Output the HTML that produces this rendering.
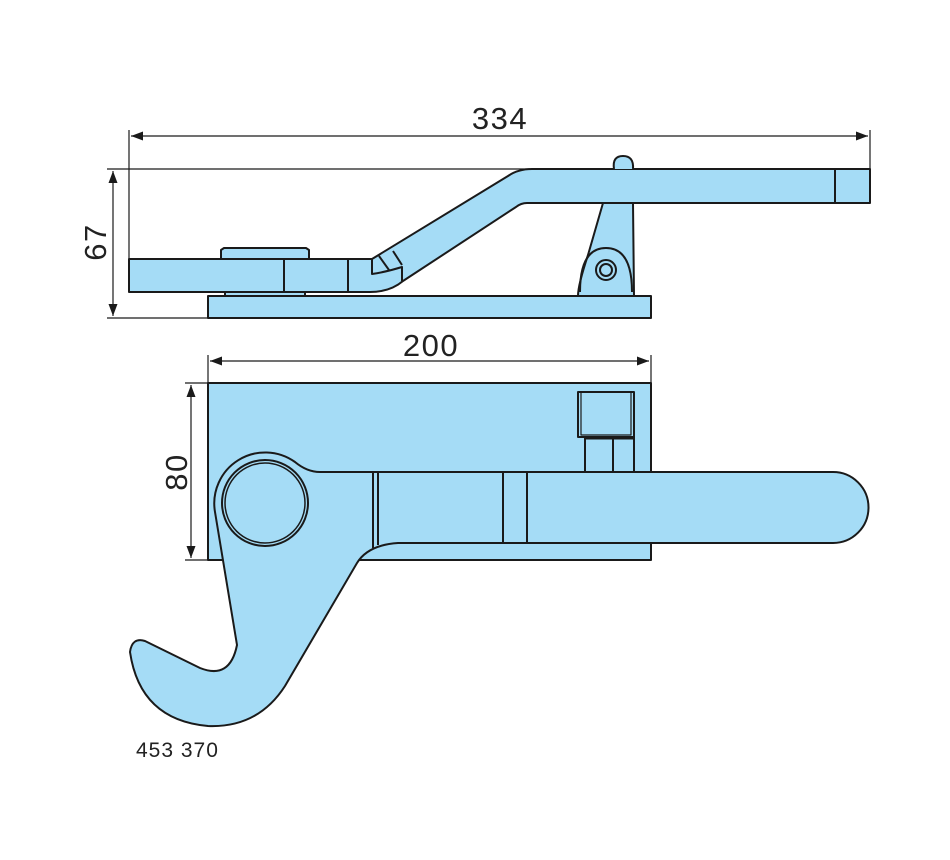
<!DOCTYPE html>
<html><head><meta charset="utf-8"><style>body{margin:0;background:#fff}svg{display:block}</style></head>
<body>
<svg width="950" height="860" viewBox="0 0 950 860" xmlns="http://www.w3.org/2000/svg">
<defs>
<marker id="a" viewBox="0 0 12 10" refX="12" refY="5" markerWidth="12" markerHeight="10" markerUnits="userSpaceOnUse" orient="auto-start-reverse"><path d="M0,0.5 L12,5 L0,9.5z" fill="#1a1a1a"/></marker>
</defs>
<g fill="none" stroke="#1a1a1a" stroke-width="1.2">
<line x1="129" y1="130" x2="129" y2="260"/>
<line x1="870" y1="130" x2="870" y2="170"/>
<line x1="131" y1="136" x2="868" y2="136" marker-start="url(#a)" marker-end="url(#a)"/>
<line x1="107" y1="169" x2="530" y2="169"/>
<line x1="107" y1="318" x2="208" y2="318"/>
<line x1="113" y1="171" x2="113" y2="316" marker-start="url(#a)" marker-end="url(#a)"/>
<line x1="208" y1="355" x2="208" y2="383"/>
<line x1="651" y1="355" x2="651" y2="383"/>
<line x1="210" y1="361" x2="649" y2="361" marker-start="url(#a)" marker-end="url(#a)"/>
<line x1="185" y1="383" x2="208" y2="383"/>
<line x1="185" y1="560" x2="208" y2="560"/>
<line x1="191" y1="385" x2="191" y2="558" marker-start="url(#a)" marker-end="url(#a)"/>
</g>
<g font-family="Liberation Sans, sans-serif" fill="#222" font-size="31" font-weight="300" letter-spacing="1.5">
<text x="500" y="129" text-anchor="middle">334</text>
<text x="431" y="356" text-anchor="middle">200</text>
<text transform="translate(106,242) rotate(-90)" text-anchor="middle">67</text>
<text transform="translate(187,472) rotate(-90)" text-anchor="middle">80</text>
<text x="136" y="757" font-size="21" letter-spacing="1">453 370</text>
</g>
<g fill="#a5dcf6" stroke="#1a1a1a" stroke-width="2" stroke-linejoin="round">
<rect x="208" y="296" width="443" height="22"/>
<rect x="225" y="290" width="80" height="6"/>
<path d="M221,259 L221,250 L224,248 L306,248 L309,250 L309,259"/>
<path d="M129,259 L372,259 L508,176 Q518,169 532,169 L870,169 L870,203 L527,203 Q521,203 516,207 L403,281 Q390,292 370,292 L129,292 Z"/>
<line x1="284" y1="259" x2="284" y2="292"/>
<line x1="348" y1="259" x2="348" y2="292"/>
<line x1="835" y1="169" x2="835" y2="203"/>
<path d="M372,259 L372,274 Q386,272 402,267 L402,281" fill="none"/>
<path d="M379,256 L389,270 M393,251 L402,265" fill="none"/>
<path d="M614,169 Q612,156 623,156 Q634,156 633,169" />
<path d="M603,203 L588,255 Q578,285 578,296 L634,296 L633,203 Z"/>
<path d="M580,292 Q580,248 606,248 Q632,248 632,292" fill="none"/>
<circle cx="606" cy="270" r="10"/>
<circle cx="606" cy="270" r="6"/>
<rect x="208" y="383" width="443" height="177"/>
<rect x="578" y="392" width="56" height="45"/>
<rect x="581" y="392" width="50" height="43" fill="none" stroke-width="1.2"/>
<rect x="585" y="437" width="49" height="35"/>
<line x1="585" y1="438" x2="634" y2="438" stroke-width="3"/>
<line x1="613" y1="437" x2="613" y2="472"/>
<path d="M320,472 L833,472 A35.5,35.5 0 0 1 833,543 L398,543 Q368,545 357,563 L285,686 Q258,728 208,726 Q140,720 130,652 Q132,637 145,641 L200,668 Q230,680 237,645 L215,512 A51,51 0 0 1 295,462 Q307,472 320,472 Z"/>
<circle cx="265" cy="503" r="43"/>
<circle cx="265" cy="503" r="40" fill="none" stroke-width="1.5"/>
<line x1="373" y1="472" x2="373" y2="548"/>
<line x1="378" y1="472" x2="378" y2="545"/>
<line x1="503" y1="472" x2="503" y2="543"/>
<line x1="527" y1="472" x2="527" y2="543"/>
</g>
</svg>
</body></html>
